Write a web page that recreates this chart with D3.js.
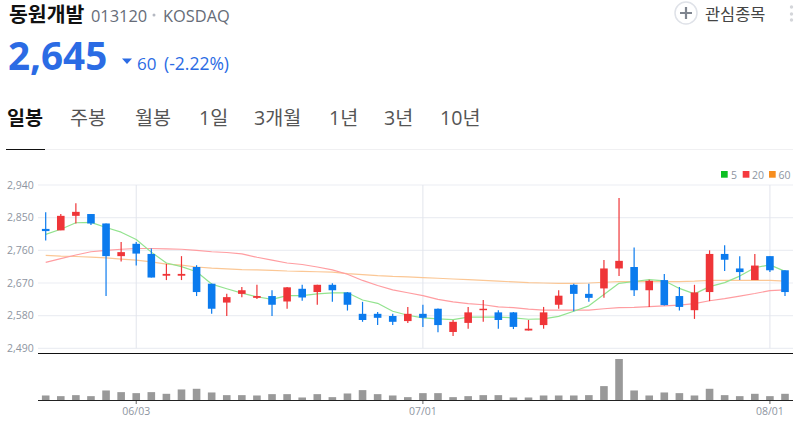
<!DOCTYPE html>
<html>
<head>
<meta charset="utf-8">
<script src="https://d3js.org/d3.v7.min.js"></script>
<style>
  html, body { margin: 0; padding: 0; background: #fff; }
  svg { display: block; }
  text { font-family: "Open Sans", "Noto Sans CJK KR", sans-serif; }
  .grid { stroke: #eceef3; stroke-width: 1.2px; }
  .vgrid { stroke: #e2e5ec; stroke-width: 1px; }
  .ma { fill: none; stroke-width: 1.2px; stroke-linejoin: round; }
  .tick-label { fill: #8e95a1; font-size: 10.5px; }
</style>
</head>
<body>
<svg id="chart" width="800" height="422"></svg>
<script>
const openPrice = [2819,2815,2855,2860,2834,2744,2778,2750,2690,2690,2714,2668,2616,2640,2629,2634,2619,2654,2645,2665,2644,2585,2585,2579,2565,2585,2599,2535,2560,2595,2589,2589,2539,2554,2610,2665,2640,2655,2710,2714,2650,2678,2634,2595,2645,2750,2710,2678,2744,2705];
const closePrice = [2813,2855,2866,2834,2744,2755,2751,2685,2695,2695,2645,2599,2631,2650,2634,2610,2658,2630,2665,2650,2610,2568,2574,2563,2585,2574,2554,2563,2589,2599,2568,2549,2544,2589,2635,2640,2629,2710,2731,2650,2676,2609,2604,2644,2750,2734,2700,2718,2705,2645];
const highPrice = [2865,2860,2890,2860,2834,2783,2783,2765,2723,2744,2719,2668,2640,2659,2665,2650,2659,2665,2665,2669,2645,2618,2590,2585,2604,2610,2600,2568,2604,2623,2595,2590,2568,2604,2650,2668,2668,2733,2904,2768,2679,2695,2659,2665,2760,2774,2744,2750,2744,2705];
const lowPrice = [2787,2815,2834,2830,2634,2729,2718,2685,2678,2678,2634,2585,2579,2631,2626,2579,2599,2621,2610,2618,2594,2563,2554,2554,2560,2549,2534,2524,2544,2563,2544,2543,2539,2544,2599,2592,2618,2629,2689,2634,2604,2608,2594,2571,2620,2703,2678,2678,2700,2634];
const ma5 = [2804,2818,2836,2837,2823,2810,2790,2755,2725,2715,2701,2667,2654,2642,2632,2625,2635,2635,2640,2643,2643,2623,2614,2592,2581,2574,2571,2569,2576,2576,2576,2574,2570,2571,2578,2592,2607,2638,2669,2674,2679,2676,2655,2640,2660,2671,2689,2712,2720,2702];
const ma20 = [2727,2737,2747,2756,2760,2763,2765,2765,2764,2763,2760,2756,2754,2750,2741,2733,2725,2721,2714,2706,2694,2677,2663,2651,2643,2635,2625,2618,2613,2610,2604,2602,2598,2595,2595,2595,2595,2599,2602,2603,2605,2607,2609,2613,2621,2627,2634,2641,2649,2651];
const ma60 = [2746,2744,2743,2741,2739,2736,2733,2728,2722,2719,2714,2711,2709,2707,2706,2705,2703,2702,2701,2700,2696,2693,2690,2688,2687,2685,2683,2681,2679,2677,2675,2673,2671,2670,2669,2669,2670,2672,2674,2674,2674,2674,2674,2675,2677,2677,2677,2677,2677,2675];
const volume = [150,130,160,130,300,250,220,250,200,330,350,240,160,160,150,190,190,90,190,100,210,310,190,150,100,220,220,100,130,160,160,90,90,150,150,150,160,430,1240,300,150,240,220,150,350,160,130,200,130,200];
const priceTicks = [2940,2850,2760,2670,2580,2490];
const dateLabels = ["06/03","07/01","08/01"];
const dateIndex = [6,25,48];
const tabs = ["일봉","주봉","월봉","1일","3개월","1년","3년","10년"];
const tabX = [7,70,135,199,254,329,384,440];
const legendNames = ["5","20","60"];
const legendColors = ["#0cbf22","#f5393e","#f78d1e"];

const svg = d3.select("#chart");
const left = 38, right = 793;

const x = d3.scaleLinear().domain([0, 49]).range([45.7, 785]);
const y = d3.scaleLinear().domain([2490, 2940]).range([348.3, 185]);
const yVol = d3.scaleLinear().domain([0, 1240]).range([400.5, 359]);

const up = "#ef3538", down = "#0b7bee";
const isUp = i => closePrice[i] >= openPrice[i];
const idx = d3.range(openPrice.length);

// header
svg.append("text").attr("x", 9).attr("y", 21.5).attr("font-size", 20.5).attr("font-weight", 700).attr("fill", "#111").text("동원개발");
svg.append("text").attr("x", 91).attr("y", 21.5).attr("font-size", 16.4).attr("fill", "#666c78").text("013120");
svg.append("circle").attr("cx", 154).attr("cy", 15).attr("r", 1.5).attr("fill", "#b5b9c2");
svg.append("text").attr("x", 163).attr("y", 21.5).attr("font-size", 16.4).attr("fill", "#666c78").text("KOSDAQ");
svg.append("text").attr("x", 8).attr("y", 70).attr("font-size", 38.6).attr("font-weight", 700).attr("fill", "#2b6be4").text("2,645");
svg.append("path").attr("d", "M122,58.5L132,58.5L127,64Z").attr("fill", "#2b6be4");
svg.append("text").attr("x", 137).attr("y", 70).attr("font-size", 17).attr("fill", "#2b6be4").text("60");
svg.append("text").attr("x", 164).attr("y", 70).attr("font-size", 17.5).attr("fill", "#2b6be4").text("(-2.22%)");

// watch button
svg.append("circle").attr("cx", 686).attr("cy", 13).attr("r", 11).attr("fill", "#fff").attr("stroke", "#dfe2e8").attr("stroke-width", 1.5);
svg.append("path").attr("d", "M680,13H692M686,7V19").attr("stroke", "#7f858f").attr("stroke-width", 2.2);
svg.append("text").attr("x", 705).attr("y", 19.5).attr("font-size", 16.4).attr("fill", "#444").text("관심종목");
svg.selectAll("circle.dot").data([7, 14, 20]).join("circle").attr("class", "dot")
  .attr("cx", 791.5).attr("cy", d => d).attr("r", 1.7).attr("fill", "#d4d6da");

// tabs
svg.selectAll("text.tab").data(tabs).join("text").attr("class", "tab")
  .attr("x", (d, i) => tabX[i]).attr("y", 125).attr("font-size", 19.6)
  .attr("font-weight", (d, i) => i === 0 ? 700 : 400)
  .attr("fill", (d, i) => i === 0 ? "#111" : "#555")
  .text(d => d);
svg.append("line").attr("x1", 45).attr("x2", right).attr("y1", 149.5).attr("y2", 149.5).attr("stroke", "#f0f0f2");
svg.append("line").attr("x1", 6).attr("x2", 45).attr("y1", 149.5).attr("y2", 149.5).attr("stroke", "#111");

// legend
const legX = [721, 742.7, 769], legTextX = [731, 752, 778.6];
legendNames.forEach((d, i) => {
  svg.append("rect").attr("x", legX[i]).attr("y", 171).attr("width", 6.7).attr("height", 6.7).attr("fill", legendColors[i]);
  svg.append("text").attr("x", legTextX[i]).attr("y", 178.5).attr("font-size", 10.5).attr("fill", "#8e95a1").text(d);
});

// grid and price axis
svg.selectAll("line.grid").data(priceTicks).join("line").attr("class", "grid")
  .attr("x1", left).attr("x2", right).attr("y1", d => y(d)).attr("y2", d => y(d));
svg.selectAll("line.vgrid").data(dateIndex).join("line").attr("class", "vgrid")
  .attr("x1", d => x(d)).attr("x2", d => x(d)).attr("y1", y(2940)).attr("y2", y(2490));
svg.selectAll("text.price").data(priceTicks).join("text").attr("class", "tick-label price")
  .attr("x", 7).attr("y", d => y(d) + 3.8).text(d => d3.format(",")(d));

// moving averages
const line = d3.line().x((d, i) => x(i)).y(d => y(d));
[[ma60, "#fbc795"], [ma20, "#ff9da1"], [ma5, "#93e38f"]].forEach(s => {
  svg.append("path").datum(s[0]).attr("class", "ma").attr("stroke", s[1]).attr("d", line);
});

// candles
svg.selectAll("line.wick").data(idx).join("line").attr("class", "wick")
  .attr("x1", i => x(i)).attr("x2", i => x(i))
  .attr("y1", i => y(highPrice[i])).attr("y2", i => y(lowPrice[i]))
  .attr("stroke", i => isUp(i) ? up : down).attr("stroke-width", 1.2);
svg.selectAll("rect.body").data(idx).join("rect").attr("class", "body")
  .attr("x", i => x(i) - 3.8).attr("width", 7.6)
  .attr("y", i => y(Math.max(openPrice[i], closePrice[i])))
  .attr("height", i => Math.abs(y(openPrice[i]) - y(closePrice[i])))
  .attr("fill", i => isUp(i) ? up : down);

svg.append("line").attr("x1", left).attr("x2", right).attr("y1", 353.5).attr("y2", 353.5).attr("stroke", "#111").attr("stroke-width", 1);

// volume
svg.selectAll("rect.vol").data(volume).join("rect").attr("class", "vol")
  .attr("x", (d, i) => x(i) - 3.8).attr("width", 7.6)
  .attr("y", d => yVol(d)).attr("height", d => yVol(0) - yVol(d))
  .attr("fill", "#999");
svg.append("line").attr("x1", left).attr("x2", right).attr("y1", 400.5).attr("y2", 400.5).attr("stroke", "#222").attr("stroke-width", 1);

// date ticks
svg.selectAll("line.dtick").data(dateIndex).join("line").attr("class", "dtick")
  .attr("x1", d => x(d)).attr("x2", d => x(d)).attr("y1", 401).attr("y2", 404).attr("stroke", "#666");
svg.selectAll("text.date").data(dateLabels).join("text").attr("class", "tick-label date")
  .attr("x", (d, i) => x(dateIndex[i])).attr("y", 415).attr("text-anchor", "middle").text(d => d);
</script>
</body>
</html>
